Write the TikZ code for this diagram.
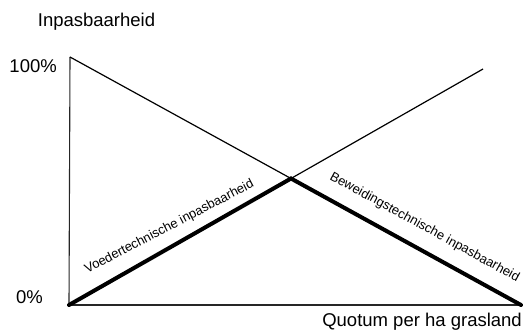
\documentclass[tikz,border=0pt]{standalone}
\usepackage{fontspec}
\setmainfont{Liberation Sans}
\begin{document}
\begin{tikzpicture}[x=1pt,y=1pt,
  thinline/.style={line width=1.2pt, black},
  thickline/.style={line width=4pt, black},
  axis/.style={line width=1.1pt, black!85},
  biglabel/.style={inner sep=0pt, font=\fontsize{18.5}{20}\selectfont},
  smalllabel/.style={inner sep=0pt, anchor=base, font=\fontsize{13}{15}\selectfont}]
\useasboundingbox (0,0) rectangle (525,330);
\coordinate (O) at (69,25);
\coordinate (Ytop) at (70,273);
\coordinate (Xend) at (521,25);
\coordinate (C) at (291,151.5);
\coordinate (A) at (483,261);
% axes
\draw[axis] (O) -- (Ytop);
\draw[axis] (O) -- (Xend);
% thin lines
\draw[thinline] (Ytop) -- (C);
\draw[thinline] (C) -- (A);
% thick lines
\draw[thickline, line cap=round] (O) -- (C) -- (Xend);
% labels
\node[biglabel, anchor=base] (ylab) at (96.5,303) {Inpasbaarheid};
\node[biglabel, anchor=base east] (l100) at (57,257) {100\%};
\node[biglabel, anchor=base east] (l0) at (43,27) {0\%};
\node[biglabel, anchor=base east] (xlab) at (522,4) {Quotum per ha grasland};
\node[smalllabel, rotate=27.5] (voeder) at (171,100) {Voedertechnische inpasbaarheid};
\node[smalllabel, rotate=-28.7] (beweid) at (423,99.5) {Beweidingstechnische inpasbaarheid};
\end{tikzpicture}
\end{document}
